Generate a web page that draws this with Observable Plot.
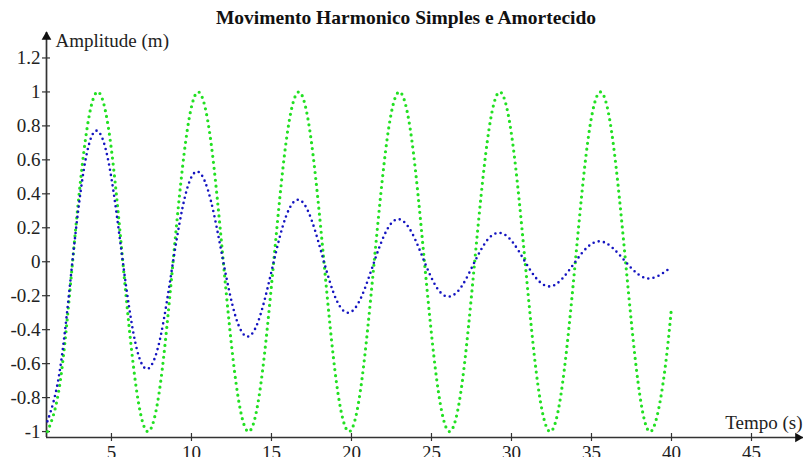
<!DOCTYPE html>
<html>
<head>
<meta charset="utf-8">
<script src="https://cdn.jsdelivr.net/npm/d3@7"></script>
<script src="https://cdn.jsdelivr.net/npm/@observablehq/plot@0.6"></script>
<style>
  body { margin: 0; background: #fff; }
  #wrap { position: relative; width: 803px; height: 457px; overflow: hidden; }
  #title { position: absolute; left: 0; top: 6px; width: 812px; text-align: center;
           font: bold 19.5px "Liberation Serif", "Times New Roman", serif; color: #111; line-height: 24px; }
  svg text { font-family: "Liberation Serif", "Times New Roman", serif; }
</style>
</head>
<body>
<div id="wrap"><div id="title">Movimento Harmonico Simples e Amortecido</div></div>
<script>
// Time samples (s)
const tempo = [1.00, 1.79, 2.57, 3.36, 4.14, 4.93, 5.71, 6.50, 7.28, 8.07,
  8.85, 9.64, 10.42, 11.21, 11.99, 12.78, 13.57, 14.35, 15.14, 15.92,
  16.71, 17.49, 18.28, 19.06, 19.85, 20.63, 21.42, 22.21, 22.99, 23.78,
  24.56, 25.35, 26.13, 26.92, 27.70, 28.49, 29.27, 30.06, 30.85, 31.63,
  32.42, 33.20, 33.99, 34.77, 35.56, 36.34, 37.13, 37.91, 38.70, 39.48, 40.00];
// Simple harmonic motion (green)
const simples = [-1, -0.71, 0, 0.71, 1, 0.71, 0, -0.71, -1, -0.71,
  0, 0.71, 1, 0.71, 0, -0.71, -1, -0.71, 0, 0.71,
  1, 0.71, 0, -0.71, -1, -0.71, 0, 0.71, 1, 0.71,
  0, -0.71, -1, -0.71, 0, 0.71, 1, 0.71, 0, -0.71,
  -1, -0.71, 0, 0.71, 1, 0.71, 0, -0.71, -1, -0.71, -0.27];
// Damped motion (blue)
const amortecido = [-0.94, -0.63, 0.01, 0.59, 0.77, 0.53, 0, -0.48, -0.63, -0.44,
  0, 0.40, 0.53, 0.36, 0, -0.33, -0.44, -0.30, 0, 0.27,
  0.365, 0.25, 0, -0.225, -0.30, -0.205, 0, 0.187, 0.25, 0.17,
  0, -0.155, -0.205, -0.14, 0, 0.128, 0.17, 0.117, 0, -0.106,
  -0.145, -0.097, 0, 0.088, 0.12, 0.08, 0, -0.073, -0.098, -0.066, -0.03];

const xTicks = [5, 10, 15, 20, 25, 30, 35, 40, 45];
const yTicks = [-1, -0.8, -0.6, -0.4, -0.2, 0, 0.2, 0.4, 0.6, 0.8, 1, 1.2];
const xDomain = [0.94, 48.25];
const yDomain = [-1.035, 1.35];

const green = tempo.map((t, i) => ({t, v: simples[i]}));
const blue = tempo.map((t, i) => ({t, v: amortecido[i]}));

const W = 803, H = 457, mL = 46, mR = 0, mT = 32, mB = 20;
const frameW = W - mL - mR, frameH = H - mT - mB;
const axisColor = "#333";
const serif = "'Liberation Serif', 'Times New Roman', serif";

const chart = Plot.plot({
  width: W, height: H,
  marginLeft: mL, marginRight: mR, marginTop: mT, marginBottom: mB,
  style: {fontFamily: serif, fontSize: "19px", color: "#222", background: "transparent", overflow: "visible"},
  x: {domain: xDomain},
  y: {domain: yDomain},
  marks: [
    Plot.ruleX([xDomain[0]], {stroke: axisColor, strokeWidth: 1.7}),
    Plot.ruleY([yDomain[0]], {stroke: axisColor, strokeWidth: 1.7}),
    Plot.tickX(xTicks, {x: d => d, stroke: axisColor, strokeWidth: 1.2, insetTop: frameH - 4, insetBottom: -4}),
    Plot.tickY(yTicks, {y: d => d, stroke: axisColor, strokeWidth: 1.2, insetLeft: -4, insetRight: frameW - 4}),
    Plot.dot([0], {frameAnchor: "top-left", symbol: "triangle", r: 3.6, fill: "#111", stroke: null, dy: 4.4}),
    Plot.dot([0], {frameAnchor: "bottom-right", symbol: "triangle", r: 3.6, fill: "#111", stroke: null, rotate: 90, dx: -5.5}),
    Plot.axisX({ticks: xTicks, tickSize: 0, tickPadding: 8, tickFormat: d => String(d), label: null, fontSize: 19, fontFamily: serif}),
    Plot.axisY({ticks: yTicks, tickSize: 0, tickPadding: 6, tickFormat: d => String(d), label: null, fontSize: 19, fontFamily: serif}),
    Plot.text(["Amplitude (m)"], {frameAnchor: "top-left", textAnchor: "start", lineAnchor: "bottom", dx: 9, dy: 14, fontSize: 19, fontFamily: serif, fill: "#222"}),
    Plot.text(["Tempo (s)"], {frameAnchor: "bottom-right", textAnchor: "end", lineAnchor: "bottom", dx: -1, dy: -9, fontSize: 19, fontFamily: serif, fill: "#222"}),
    Plot.line(green, {x: "t", y: "v", curve: "natural", stroke: "#22e022", strokeWidth: 3.2, strokeDasharray: "0,6", strokeLinecap: "round"}),
    Plot.line(blue, {x: "t", y: "v", curve: "natural", stroke: "#1414c0", strokeWidth: 2.6, strokeDasharray: "0,5.3", strokeLinecap: "round"})
  ]
});
chart.style.position = "absolute";
chart.style.left = "0";
chart.style.top = "0";
document.getElementById("wrap").appendChild(chart);
</script>
</body>
</html>
